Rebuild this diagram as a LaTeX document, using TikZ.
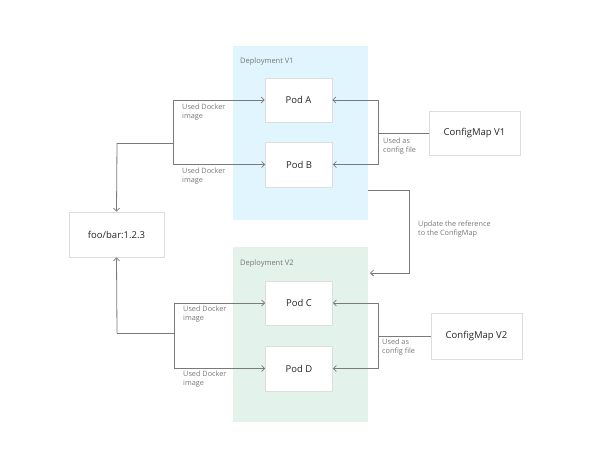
\documentclass[tikz,border=0pt]{standalone}
\usepackage{fontspec}
\setmainfont{Open Sans}
\usetikzlibrary{arrows.meta}
\definecolor{lineg}{HTML}{7A7A7A}
\definecolor{boxb}{HTML}{DDDDDD}
\definecolor{depblue}{HTML}{E1F5FE}
\definecolor{depgreen}{HTML}{E3F2EA}
\definecolor{lbl}{HTML}{777777}
\tikzset{
  box/.style={draw=boxb, line width=0.6pt, fill=white, inner sep=0pt, font=\fontsize{9.5}{11}\selectfont, text=black!85},
  conn/.style={draw=lineg, line width=0.8pt},
  arr/.style={conn, -{Straight Barb[length=3pt,width=6pt]}},
  small/.style={font=\fontsize{7.3}{9}\selectfont, text=lbl, align=left, anchor=north west, inner sep=0pt},
  deplbl/.style={font=\fontsize{7.5}{9}\selectfont, text=lbl, anchor=north west, inner sep=0pt}
}
\begin{document}
\begin{tikzpicture}[x=1pt,y=-1pt]
\useasboundingbox (0,0) rectangle (600,472);
% deployments
\fill[depblue] (233,46) rectangle (368,220);
\fill[depgreen] (233,247) rectangle (368,422);
\node[deplbl] (dv1) at (240,58) {Deployment V1};
\node[deplbl] (dv2) at (240,260) {Deployment V2};
% pods
\node[box, minimum width=67pt, minimum height=44pt] (pa) at (298.5,100) {Pod A};
\node[box, minimum width=67pt, minimum height=45pt] (pb) at (299,164.5) {Pod B};
\node[box, minimum width=67pt, minimum height=44pt] (pc) at (299,303) {Pod C};
\node[box, minimum width=67pt, minimum height=45pt] (pd) at (299,368.5) {Pod D};
% other boxes
\node[box, minimum width=95pt, minimum height=45pt] (foo) at (116.5,234.5) {foo/bar:1.2.3};
\node[box, minimum width=91pt, minimum height=44pt] (cm1) at (474.5,133) {ConfigMap V1};
\node[box, minimum width=91pt, minimum height=46pt] (cm2) at (476.5,336) {ConfigMap V2};
% coordinates
\coordinate (la) at (173,100);
\coordinate (lb) at (173,164.5);
\coordinate (lm1) at (173,143);
\coordinate (fm1) at (117,143);
\coordinate (lc) at (174,303);
\coordinate (ld) at (174,368.5);
\coordinate (lm2) at (174,333);
\coordinate (fm2) at (117,333);
\coordinate (ra) at (378,100);
\coordinate (rb) at (378,164.5);
\coordinate (rm1) at (378,133);
\coordinate (rc) at (378,303);
\coordinate (rd) at (378,368.5);
\coordinate (rm2) at (378,336);
\coordinate (u1) at (368,190);
\coordinate (u2) at (409,190);
\coordinate (u3) at (409,273);
\coordinate (u4) at (370,273);
% left brackets
\draw[conn] (la) -- (lb);
\draw[arr] (la) -- (pa.west);
\draw[arr] (lb) -- (pb.west);
\draw[conn] (lm1) -- (fm1);
\draw[arr] (fm1) -- (foo.north);
\draw[conn] (lc) -- (ld);
\draw[arr] (lc) -- (pc.west);
\draw[arr] (ld) -- (pd.west);
\draw[conn] (lm2) -- (fm2);
\draw[arr] (fm2) -- (foo.south);
% right brackets
\draw[conn] (ra) -- (rb);
\draw[arr] (ra) -- (pa.east);
\draw[arr] (rb) -- (pb.east);
\draw[conn] (cm1.west) -- (rm1);
\draw[conn] (rc) -- (rd);
\draw[arr] (rc) -- (pc.east);
\draw[arr] (rd) -- (pd.east);
\draw[conn] (cm2.west) -- (rm2);
% update
\draw[arr] (u1) -- (u2) -- (u3) -- (u4);
% labels
\node[small] (t1) at (182,104) {Used Docker\\image};
\node[small] (t2) at (182,168) {Used Docker\\image};
\node[small] (t3) at (183,306) {Used Docker\\image};
\node[small] (t4) at (183,371) {Used Docker\\image};
\node[small] (t5) at (383,138) {Used as\\config file};
\node[small] (t6) at (382,339) {Used as\\config file};
\node[small] (t7) at (418,221) {Update the reference\\to the ConfigMap};
\end{tikzpicture}
\end{document}
